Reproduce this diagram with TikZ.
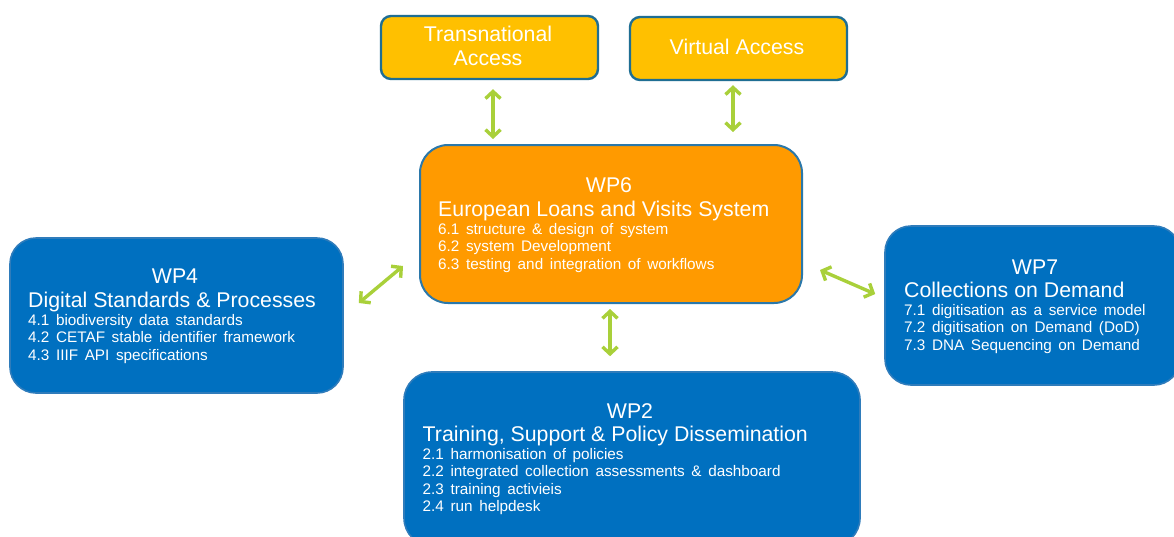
\documentclass[tikz,border=0pt]{standalone}
\usepackage{fontspec}
\setmainfont{Liberation Sans}
\usetikzlibrary{arrows.meta}
\definecolor{gold}{HTML}{FFC000}
\definecolor{goldline}{HTML}{1F6E93}
\definecolor{orng}{HTML}{FF9A00}
\definecolor{orngline}{HTML}{2B78AA}
\definecolor{wpblue}{HTML}{0070C0}
\definecolor{wpline}{HTML}{2F7CBB}
\definecolor{arrgreen}{HTML}{A9D03A}
\newcommand{\mysubfont}{\fontsize{15.3}{17.5}\selectfont\spaceskip=6.6pt\relax}
\tikzset{
  topbox/.style={draw=goldline, fill=gold, line width=2.4pt, rounded corners=10pt, minimum width=217pt, minimum height=63pt, inner sep=0pt},
  centerbox/.style={draw=orngline, fill=orng, line width=2pt, rounded corners=28pt, inner sep=0pt},
  bluebox/.style={draw=wpline, fill=wpblue, line width=1.6pt, rounded corners=26pt, inner sep=0pt},
  ttl/.style={text=white, inner sep=0pt, font=\fontsize{21.3}{24}\selectfont},
  sub/.style={text=white, inner sep=0pt, font=\mysubfont},
  arr/.style={draw=arrgreen, line width=3.4pt, {Straight Barb[length=7pt,width=15pt]}-{Straight Barb[length=7pt,width=15pt]}}
}
\begin{document}
\begin{tikzpicture}[x=1pt,y=-1pt]
\clip (0,0) rectangle (1174,536);
\fill[white] (0,0) rectangle (1174,536);
% boxes
\node[topbox] (ta) at (489.5,47.5) {};
\node[topbox] (va) at (738.5,48.5) {};
\node[centerbox, minimum width=382pt, minimum height=158pt] (wp6) at (611,224) {};
\node[bluebox, minimum width=333pt, minimum height=155pt] (wp4) at (176.5,315.5) {};
\node[bluebox, minimum width=295pt, minimum height=159pt] (wp7) at (1032.5,305.5) {};
\node[bluebox, minimum width=456pt, minimum height=174pt, rounded corners=28pt] (wp2) at (632,459) {};
% top box texts
\node[ttl, anchor=base] (tat1) at (488,41.5) {Transnational};
\node[ttl, anchor=base] (tat2) at (488,65) {Access};
\node[ttl, anchor=base] (vat) at (737,54) {Virtual Access};
% WP6
\node[ttl, anchor=base] (wp6a) at (609,192.5) {WP6};
\node[ttl, anchor=base west] (wp6b) at (438,216) {European Loans and Visits System};
\node[sub, anchor=base west] (wp6c) at (438,234) {6.1 structure \& design of system};
\node[sub, anchor=base west] (wp6d) at (438,251.5) {6.2 system Development};
\node[sub, anchor=base west] (wp6e) at (438,269) {6.3 testing and integration of workflows};
% WP4
\node[ttl, anchor=base] (wp4a) at (175,283) {WP4};
\node[ttl, anchor=base west] (wp4b) at (28,307.5) {Digital Standards \& Processes};
\node[sub, anchor=base west] (wp4c) at (28,325) {4.1 biodiversity data standards};
\node[sub, anchor=base west] (wp4d) at (28,342.5) {4.2 CETAF stable identifier framework};
\node[sub, anchor=base west] (wp4e) at (28,360) {4.3 IIIF API specifications};
% WP7
\node[ttl, anchor=base] (wp7a) at (1035,274.5) {WP7};
\node[ttl, anchor=base west] (wp7b) at (904,297) {Collections on Demand};
\node[sub, anchor=base west] (wp7c) at (904,315) {7.1 digitisation as a service model};
\node[sub, anchor=base west] (wp7d) at (904,332.5) {7.2 digitisation on Demand (DoD)};
\node[sub, anchor=base west] (wp7e) at (904,350) {7.3 DNA Sequencing on Demand};
% WP2
\node[ttl, anchor=base] (wp2a) at (630,418) {WP2};
\node[ttl, anchor=base west] (wp2b) at (422.5,441.5) {Training, Support \& Policy Dissemination};
\node[sub, anchor=base west] (wp2c) at (422.5,459) {2.1 harmonisation of policies};
\node[sub, anchor=base west] (wp2d) at (422.5,476.5) {2.2 integrated collection assessments \& dashboard};
\node[sub, anchor=base west] (wp2e) at (422.5,494) {2.3 training activieis};
\node[sub, anchor=base west] (wp2f) at (422.5,511.5) {2.4 run helpdesk};
% arrows
\draw[arr, shorten <=9pt, shorten >=5pt] ([xshift=3.5pt]ta.south) -- ([xshift=3.5pt]ta.south |- wp6.north);
\draw[arr, shorten <=4pt, shorten >=12pt] ([xshift=-5.5pt]va.south) -- ([xshift=-5.5pt]va.south |- wp6.north);
\draw[arr, shorten <=5pt, shorten >=15pt] ([xshift=-1pt]wp6.south) -- ([xshift=-1pt]wp6.south |- wp2.north);
\draw[arr] ([xshift=15pt,yshift=12.5pt]wp4.east) -- ([xshift=-16pt,yshift=-42pt]wp6.west);
\draw[arr] ([xshift=17pt,yshift=-46pt]wp6.east) -- ([xshift=-9pt,yshift=11.5pt]wp7.west);
\end{tikzpicture}
\end{document}
